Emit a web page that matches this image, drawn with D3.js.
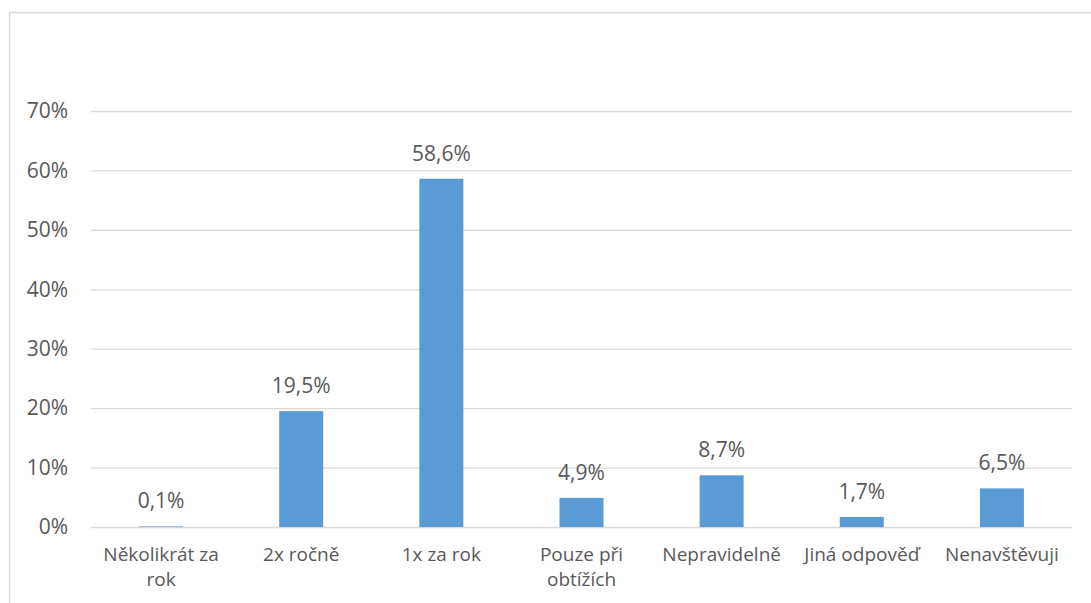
<!DOCTYPE html>
<html>
<head>
  <meta charset="UTF-8">
  <script type="text/javascript" src="https://cdn.jsdelivr.net/npm/d3@7/dist/d3.min.js" charset="UTF-8"></script>
  <title>Četnost návštěv</title>
  <style>
    body { margin: 0; background: #fff; }
    text { font-family: "Open Sans", sans-serif; fill: #595959; }
  </style>
</head>

<body>

<svg xmlns="http://www.w3.org/2000/svg" width="1091" height="603"></svg>

<script type="text/javascript">

  var categories = [ ["Několikrát za", "rok"], ["2x ročně"], ["1x za rok"], ["Pouze při", "obtížích"], ["Nepravidelně"], ["Jiná odpověď"], ["Nenavštěvuji"] ];
  var values = [ 0.1, 19.5, 58.6, 4.9, 8.7, 1.7, 6.5 ];
  var ticks = [ 0, 10, 20, 30, 40, 50, 60, 70 ];

  var margin = { left: 91, right: 1072, top: 111, bottom: 527 };
  var numberSize = 21;   // digits look bigger than letters in the original
  var labelSize = 19;

  var svg = d3.select("svg");

  // chart frame, right side runs off the picture
  svg.append("path")
      .attr("fill", "none")
      .attr("stroke", "#d9d9d9")
      .attr("stroke-width", 1.3)
      .attr("d", [ "M", 9.5, 603, "L", 9.5, 12.5, "L", 1091, 12.5 ].join(" "));

  var x = d3.scaleBand()
      .domain(d3.range(categories.length))
      .range([margin.left, margin.right])
      .paddingInner(0.686)
      .paddingOuter(0.343);

  var y = d3.scaleLinear()
      .domain([0, 70])
      .range([margin.bottom, margin.top]);

  // gridlines + y labels
  var yAxis = svg.append("g")
      .attr("transform", "translate(" + margin.left + ",0)")
      .call(d3.axisLeft(y)
          .tickValues(ticks)
          .tickSize(-(margin.right - margin.left))
          .tickPadding(23)
          .tickFormat(function(d) { return d + "%"; }));

  yAxis.select(".domain").remove();
  yAxis.selectAll(".tick line").attr("stroke", "#d9d9d9").attr("stroke-width", 1.3);
  yAxis.selectAll(".tick text")
      .attr("font-size", numberSize)
      .style("font-family", "'Open Sans', sans-serif")
      .attr("fill", "#595959");

  svg.selectAll("rect.bar").data(values).enter()
      .append("rect")
      .attr("class", "bar")
      .attr("fill", "#5b9bd5")
      .attr("x", function(d, i) { return x(i); })
      .attr("width", x.bandwidth())
      .attr("y", function(d) { return y(d); })
      .attr("height", function(d) { return y(0) - y(d); });

  svg.selectAll("text.value").data(values).enter()
      .append("text")
      .attr("class", "value")
      .attr("text-anchor", "middle")
      .attr("font-size", numberSize)
      .attr("x", function(d, i) { return x(i) + x.bandwidth() / 2; })
      .attr("y", function(d) { return y(d) - 18; })
      .text(function(d) { return d3.format(".1f")(d).replace(".", ",") + "%"; });

  // category labels, wrapped like the original
  var labels = svg.selectAll("text.cat").data(categories).enter()
      .append("text")
      .attr("class", "cat")
      .attr("text-anchor", "middle")
      .attr("font-size", labelSize)
      .attr("x", function(d, i) { return x(i) + x.bandwidth() / 2; })
      .attr("y", 561);

  labels.selectAll("tspan").data(function(d) { return d; }).enter()
      .append("tspan")
      .attr("x", function() { return d3.select(this.parentNode).attr("x"); })
      .attr("dy", function(d, i) { return i === 0 ? 0 : 25; })
      .text(function(d) { return d; });
</script>

</body>
</html>
